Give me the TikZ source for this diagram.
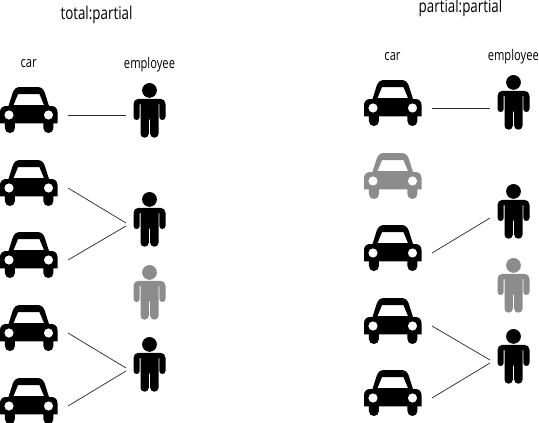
\documentclass[tikz,border=0pt]{standalone}
\usepackage{fontspec}
\setmainfont[FakeStretch=0.76]{Open Sans}
\definecolor{fadedicon}{HTML}{8C8C8C}
\definecolor{linkline}{HTML}{303030}
\tikzset{
  carpic/.pic={
    \fill[even odd rule, pic actions]
      (0,25) .. controls (0,21.5) and (2.5,19) .. (6,19) -- (8.5,19)
      -- (12.8,5.5) .. controls (14,2) and (16.5,0) .. (20,0) -- (37.5,0)
      .. controls (41,0) and (43.5,2) .. (44.7,5.5) -- (49,19) -- (51.5,19)
      .. controls (55,19) and (57.5,21.5) .. (57.5,25) -- (57.5,36.3) -- (53.4,36.3) -- (53.4,41)
      .. controls (53.4,44) and (51.2,46) .. (48.4,46) .. controls (45.6,46) and (43.4,44) .. (43.4,41)
      -- (43.4,36.3) -- (14.9,36.3) -- (14.9,41)
      .. controls (14.9,44) and (12.7,46) .. (9.9,46) .. controls (7.1,46) and (4.9,44) .. (4.9,41)
      -- (4.9,36.3) -- (0,36.3) -- cycle
      (18,7.2) -- (39.5,7.2) -- (44,18) -- (13.5,18) -- cycle
      (9,28) circle[radius=4.7pt]
      (48.5,28) circle[radius=4.7pt];
    \coordinate (-e) at (68,28);
  },
  personpic/.pic={
    \fill[pic actions] (16,7.4) circle[radius=7.4pt];
    \fill[pic actions]
      (0,21) .. controls (0,18) and (2,15.8) .. (5,15.8) -- (27,15.8)
      .. controls (30,15.8) and (32,18) .. (32,21) -- (32,33.8)
      .. controls (32,35.8) and (30.6,37) .. (28.9,37) .. controls (27.2,37) and (25.8,35.8) .. (25.8,33.8)
      -- (25.8,21) -- (25,21) -- (25,50.8)
      .. controls (25,53) and (23.2,54.7) .. (20.9,54.7) .. controls (18.6,54.7) and (16.7,53) .. (16.7,50.8)
      -- (16.7,36.5) -- (15.3,36.5) -- (15.3,50.8)
      .. controls (15.3,53) and (13.4,54.7) .. (11.1,54.7) .. controls (8.8,54.7) and (7,53) .. (7,50.8)
      -- (7,21) -- (6.2,21) -- (6.2,33.8)
      .. controls (6.2,35.8) and (4.8,37) .. (3.1,37) .. controls (1.4,37) and (0,35.8) .. (0,33.8) -- cycle;
    \coordinate (-w) at (-8,32);
    \coordinate (-a) at (-7.5,31);
    \coordinate (-b) at (-7.5,34);
  },
  linkline/.style={draw=linkline, line width=0.75pt},
  labeltext/.style={inner sep=0pt, font=\fontsize{14.7}{16}\selectfont, text=black},
  titletext/.style={inner sep=0pt, font=\fontsize{17.6}{19}\selectfont, text=black},
}
\begin{document}
\begin{tikzpicture}[x=1pt,y=-1pt]
\useasboundingbox (0,0) rectangle (539,423);
% left panel
\node[titletext] (tl) at (96.5,15) {total:partial};
\node[labeltext] (cl) at (28.7,64) {car};
\node[labeltext] (el) at (149.5,64.5) {employee};
\pic (a1) at (0,87) {carpic};
\pic (a2) at (0,160) {carpic};
\pic (a3) at (0,232) {carpic};
\pic (a4) at (0,305) {carpic};
\pic (a5) at (0,378) {carpic};
\pic (b1) at (133.5,83) {personpic};
\pic (b2) at (133.5,192) {personpic};
\pic[fadedicon] (b3) at (133.5,265) {personpic};
\pic (b4) at (133.5,337) {personpic};
\draw[linkline] (a1-e) -- (a1-e -| b1-w);
\draw[linkline] (a2-e) -- (b2-a);
\draw[linkline] (a3-e) -- (b2-b);
\draw[linkline] (a4-e) -- (b4-a);
\draw[linkline] (a5-e) -- (b4-b);
% right panel
\node[titletext] (tr) at (460.5,8) {partial:partial};
\node[labeltext] (cr) at (392.5,57) {car};
\node[labeltext] (er) at (513.3,57) {employee};
\pic (c1) at (364,80) {carpic};
\pic[fadedicon] (c2) at (364,153) {carpic};
\pic (c3) at (364,225) {carpic};
\pic (c4) at (364,298) {carpic};
\pic (c5) at (364,370) {carpic};
\pic (d1) at (497.5,75) {personpic};
\pic (d2) at (497.5,184) {personpic};
\pic[fadedicon] (d3) at (497.5,258) {personpic};
\pic (d4) at (497.5,329) {personpic};
\draw[linkline] (c1-e) -- (c1-e -| d1-w);
\draw[linkline] (c3-e) -- (d2-b);
\draw[linkline] (c4-e) -- (d4-a);
\draw[linkline] (c5-e) -- (d4-b);
\end{tikzpicture}
\end{document}
